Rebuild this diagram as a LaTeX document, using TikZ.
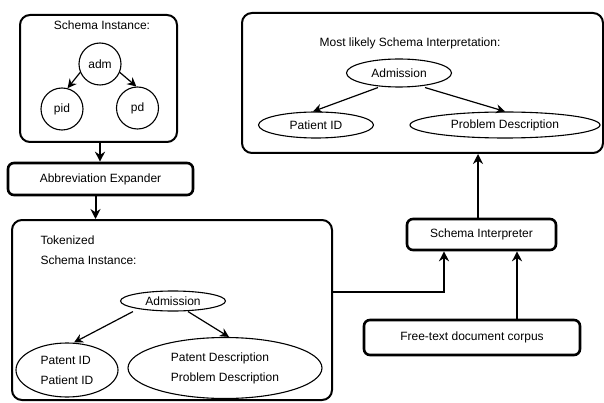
\documentclass[tikz,border=0pt]{standalone}
\usepackage{fontspec}
\setmainfont{Liberation Sans}
\usetikzlibrary{arrows.meta, positioning, shapes.geometric}

\begin{document}
\begin{tikzpicture}[x=1pt, y=-1pt, font=\fontsize{12}{20}\selectfont,
  panel/.style={draw, line width=2pt, rounded corners=10pt, inner sep=0pt},
  stage/.style={draw, line width=2.6pt, rounded corners=6pt, inner sep=0pt},
  token/.style={draw, ellipse, line width=1.1pt, inner sep=0pt},
  abbrev/.style={draw, circle, line width=1.1pt, inner sep=0pt, minimum size=42pt},
  flow/.style={-{Stealth[length=10pt, width=10pt]}, line width=2pt},
  link/.style={-{Stealth[length=9pt, width=9pt]}, line width=1.2pt}]
  \useasboundingbox (0,0) rectangle (604,403);
  % schema instance
  \node[panel, minimum width=157pt, minimum height=127pt] (siBox) at (98.5,78.5) {};
  \node (siTitle) at (102,25) {Schema Instance:};
  \node[abbrev] (adm) at (100,64) {adm};
  \node[abbrev] (pid) at (62,109) {pid};
  \node[abbrev] (pd) at (137.5,108) {pd};
  \draw[link] (adm.203) -- (pid.75);
  \draw[link] (adm.337) -- (pd.93);
  % abbreviation expander
  \node[stage, minimum width=185pt, minimum height=32pt] (expander) at (100.5,179) {Abbreviation Expander};
  \draw[flow] ([xshift=1.5pt]siBox.south) -- ([xshift=1.5pt]siBox.south |- expander.north);
  % tokenized schema instance
  \node[panel, minimum width=320pt, minimum height=180pt] (tokBox) at (172,310) {};
  \node[align=left, anchor=west] (tokTitle) at (37,250) {Tokenized\\Schema Instance:};
  \node[token, minimum width=105pt, minimum height=20pt] (tAdm) at (173,301) {Admission};
  \node[token, minimum width=102pt, minimum height=54pt, align=left] (tPid) at (67,370) {Patent ID\\Patient ID};
  \node[token, minimum width=194pt, minimum height=61pt, align=left] (tPd) at (225,368) {Patent Description\\Problem Description};
  \draw[link] ([xshift=-40pt]tAdm.south) -- ([xshift=7pt]tPid.north);
  \draw[link] ([xshift=15pt]tAdm.south) -- ([xshift=4pt]tPd.north);
  \draw[flow] ([xshift=-5pt]expander.south) -- ([xshift=-5pt]expander.south |- tokBox.north);
  % most likely interpretation
  \node[panel, minimum width=361pt, minimum height=140pt] (interpBox) at (422.5,83) {};
  \node (interpTitle) at (410,43) {Most likely Schema Interpretation:};
  \node[token, minimum width=105pt, minimum height=28pt] (iAdm) at (399,73) {Admission};
  \node[token, minimum width=115pt, minimum height=26pt] (iPid) at (316,125) {Patient ID};
  \node[token, minimum width=190pt, minimum height=26pt] (iPd) at (505,125) {Problem Description};
  \draw[link] ([xshift=-21pt]iAdm.south) -- ([xshift=-3pt]iPid.north);
  \draw[link] ([xshift=26pt]iAdm.south) -- (iPd.north);
  % interpreter and corpus
  \node[stage, minimum width=149pt, minimum height=31pt] (interp) at (481.5,234.5) {Schema Interpreter};
  \node[stage, minimum width=216pt, minimum height=35pt] (corpus) at (472,337.5) {Free-text document corpus};
  \draw[flow] ([xshift=-3.5pt]interp.north) -- ([xshift=-3.5pt]interp.north |- interpBox.south);
  \draw[flow] ([xshift=45pt]corpus.north) -- ([xshift=45pt]corpus.north |- interp.south);
  \draw[flow] ([yshift=18pt]tokBox.east) -| ([xshift=-37.5pt]interp.south);
\end{tikzpicture}
\end{document}
